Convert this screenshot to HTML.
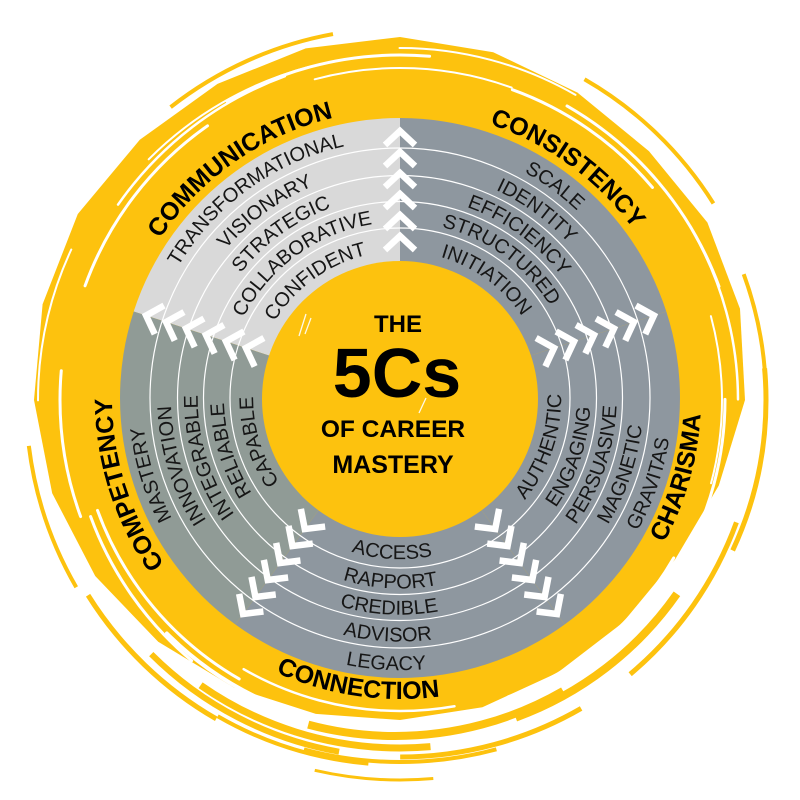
<!DOCTYPE html>
<html>
<head>
<meta charset="utf-8">
<style>
html,body{margin:0;padding:0;background:#fff;width:800px;height:800px;overflow:hidden;}
svg{display:block;position:absolute;left:0;top:0;}
.w{font-family:"Liberation Sans",Arial,sans-serif;font-size:20px;fill:#161616;}
.l{font-family:"Liberation Sans",Arial,sans-serif;font-size:25px;font-weight:bold;fill:#000;}
.c{font-family:"Liberation Sans",Arial,sans-serif;font-weight:bold;fill:#000;text-anchor:middle;}
</style>
</head>
<body>
<svg width="800" height="800" viewBox="0 0 800 800" xmlns="http://www.w3.org/2000/svg">
<defs>
  <path id="cw1" d="M546.8 400 A146.8 146.8 0 1 1 253.2 400 A146.8 146.8 0 1 1 546.8 400"/>
  <path id="cw2" d="M576 400 A176 176 0 1 1 224 400 A176 176 0 1 1 576 400"/>
  <path id="cw3" d="M602.3 400 A202.3 202.3 0 1 1 197.7 400 A202.3 202.3 0 1 1 602.3 400"/>
  <path id="cw4" d="M629 400 A229 229 0 1 1 171 400 A229 229 0 1 1 629 400"/>
  <path id="cw5" d="M657.8 400 A257.8 257.8 0 1 1 142.2 400 A257.8 257.8 0 1 1 657.8 400"/>
  <path id="cwL" d="M688 400 A288 288 0 1 1 112 400 A288 288 0 1 1 688 400"/>
  <path id="cc1" d="M238.8 400 A161.2 161.2 0 1 0 561.2 400 A161.2 161.2 0 1 0 238.8 400"/>
  <path id="cc2" d="M209.5 400 A190.5 190.5 0 1 0 590.5 400 A190.5 190.5 0 1 0 209.5 400"/>
  <path id="cc3" d="M183.3 400 A216.7 216.7 0 1 0 616.7 400 A216.7 216.7 0 1 0 183.3 400"/>
  <path id="cc4" d="M156.5 400 A243.5 243.5 0 1 0 643.5 400 A243.5 243.5 0 1 0 156.5 400"/>
  <path id="cc5" d="M127.8 400 A272.2 272.2 0 1 0 672.2 400 A272.2 272.2 0 1 0 127.8 400"/>
  <path id="ccL" d="M99 400 A301 301 0 1 0 701 400 A301 301 0 1 0 99 400"/>
  <g id="chev" fill="none" stroke="#fff" stroke-width="6.5" stroke-linejoin="miter">
    <polyline points="253,-15 267,0 253,15"/>
    <polyline points="232,-15 246,0 232,15"/>
    <polyline points="211,-15 225,0 211,15"/>
    <polyline points="190,-15 204,0 190,15"/>
    <polyline points="169,-15 183,0 169,15"/>
    <polyline points="148,-15 162,0 148,15"/>
  </g>
</defs>

<rect width="800" height="800" fill="#fff"/>

<!-- outer brushy yellow blob -->
<polygon fill="#FDC20E" points="745,400 718.8,485.5 675.4,559 622.7,622.7 557.5,672.8 482.4,707.2 400,720 315.8,713.9 234,687.5 158.2,641.8 95.2,576 52.2,493.2 34,400 42.6,304.2 77.8,214 139.8,139.8 217.5,83.9 305.7,48.4 400,37 493.2,52.2 577.5,92.6 648.9,151.1 707.4,222.5 740,308.8"/>

<!-- white streaks (pathLength 360 => units are degrees) -->
<g fill="none" stroke="#fff" stroke-linecap="round">
  <circle cx="400" cy="400" r="335" pathLength="360" stroke-width="3" stroke-dasharray="35 325" stroke-dashoffset="-200"/>
  <circle cx="405" cy="405" r="350" pathLength="360" stroke-width="2.5" stroke-dasharray="35 325" stroke-dashoffset="-215"/>
  <circle cx="400" cy="400" r="345" pathLength="360" stroke-width="3" stroke-dasharray="35 325" stroke-dashoffset="-240"/>
  <circle cx="395" cy="400" r="357" pathLength="360" stroke-width="2" stroke-dasharray="25 335" stroke-dashoffset="-180"/>
  <circle cx="400" cy="396" r="328" pathLength="360" stroke-width="2" stroke-dasharray="35 325" stroke-dashoffset="-255"/>
  <circle cx="400" cy="400" r="340" pathLength="360" stroke-width="3" stroke-dasharray="25 335" stroke-dashoffset="-160"/>
  <circle cx="400" cy="400" r="330" pathLength="360" stroke-width="3" stroke-dasharray="30 330" stroke-dashoffset="-290"/>
  <circle cx="395" cy="405" r="345" pathLength="360" stroke-width="3" stroke-dasharray="40 320" stroke-dashoffset="-300"/>
  <circle cx="400" cy="400" r="338" pathLength="360" stroke-width="2.5" stroke-dasharray="30 330" stroke-dashoffset="-330"/>
  <circle cx="400" cy="400" r="352" pathLength="360" stroke-width="2" stroke-dasharray="30 330" stroke-dashoffset="-270"/>
  <circle cx="400" cy="400" r="325" pathLength="360" stroke-width="3" stroke-dasharray="30 330" stroke-dashoffset="0"/>
  <circle cx="400" cy="400" r="316" pathLength="360" stroke-width="3" stroke-dasharray="40 320" stroke-dashoffset="-30"/>
  <circle cx="400" cy="398" r="313" pathLength="360" stroke-width="2.5" stroke-dasharray="40 320" stroke-dashoffset="-80"/>
  <circle cx="400" cy="400" r="322" pathLength="360" stroke-width="3" stroke-dasharray="40 320" stroke-dashoffset="-120"/>
  <circle cx="400" cy="400" r="330" pathLength="360" stroke-width="4" stroke-dasharray="40 320" stroke-dashoffset="-95"/>
  <circle cx="410" cy="400" r="340" pathLength="360" stroke-width="3" stroke-dasharray="30 330" stroke-dashoffset="-130"/>
  <circle cx="400" cy="410" r="355" pathLength="360" stroke-width="2" stroke-dasharray="30 330" stroke-dashoffset="-225"/>
  <circle cx="400" cy="400" r="322" pathLength="360" stroke-width="2" stroke-dasharray="30 330" stroke-dashoffset="-345"/>
  <circle cx="390" cy="400" r="345" pathLength="360" stroke-width="4" stroke-dasharray="35 325" stroke-dashoffset="-10"/>
</g>

<!-- yellow blades -->
<g fill="none" stroke="#FDC20E">
  <circle cx="400" cy="390" r="372" pathLength="360" stroke-width="4" stroke-dasharray="30 330" stroke-dashoffset="-75"/>
  <circle cx="400" cy="395" r="362" pathLength="360" stroke-width="5" stroke-dasharray="30 330" stroke-dashoffset="-60"/>
  <circle cx="400" cy="400" r="348" pathLength="360" stroke-width="7" stroke-dasharray="40 320" stroke-dashoffset="-85"/>
  <circle cx="400" cy="400" r="358" pathLength="360" stroke-width="5" stroke-dasharray="30 330" stroke-dashoffset="-20"/>
  <circle cx="410" cy="400" r="356" pathLength="360" stroke-width="5" stroke-dasharray="30 330" stroke-dashoffset="-355"/>
  <circle cx="400" cy="400" r="366" pathLength="360" stroke-width="4" stroke-dasharray="23.5 336.5" stroke-dashoffset="-340"/>
  <circle cx="400" cy="400" r="370" pathLength="360" stroke-width="4" stroke-dasharray="28 332" stroke-dashoffset="-300"/>
  <circle cx="400" cy="400" r="368" pathLength="360" stroke-width="5" stroke-dasharray="28 332" stroke-dashoffset="-120"/>
  <circle cx="400" cy="400" r="374" pathLength="360" stroke-width="4" stroke-dasharray="23 337" stroke-dashoffset="-150"/>
  <circle cx="400" cy="400" r="338" pathLength="360" stroke-width="8" stroke-dasharray="35 325" stroke-dashoffset="-35"/>
  <circle cx="395" cy="400" r="336" pathLength="360" stroke-width="8" stroke-dasharray="45 315" stroke-dashoffset="-60"/>
  <circle cx="400" cy="400" r="372" pathLength="360" stroke-width="4" stroke-dasharray="27.7 332.3" stroke-dashoffset="-232"/>
  <circle cx="400" cy="400" r="365" pathLength="360" stroke-width="4" stroke-dasharray="25 335" stroke-dashoffset="-95"/>
  <circle cx="400" cy="405" r="352" pathLength="360" stroke-width="6" stroke-dasharray="35 325" stroke-dashoffset="-100"/>
  <circle cx="400" cy="400" r="380" pathLength="360" stroke-width="3" stroke-dasharray="18 342" stroke-dashoffset="-85"/>
</g>

<g transform="translate(0,-2)">
  <!-- sectors -->
  <path d="M400 400 L133.7 313.5 A280 280 0 0 1 400 120 Z" fill="#D9D9D9"/>
  <path d="M400 400 L400 120 A280 280 0 0 1 666.3 313.5 Z" fill="#8E979F"/>
  <path d="M400 400 L666.3 313.5 A280 280 0 0 1 564.6 626.5 Z" fill="#8E979F"/>
  <path d="M400 400 L564.6 626.5 A280 280 0 0 1 235.4 626.5 Z" fill="#8E979F"/>
  <path d="M400 400 L235.4 626.5 A280 280 0 0 1 133.7 313.5 Z" fill="#909B96"/>

  <!-- ring lines -->
  <g fill="none" stroke="#fff" stroke-width="1.2">
    <circle cx="400" cy="400" r="170"/>
    <circle cx="400" cy="400" r="196.5"/>
    <circle cx="400" cy="400" r="222.5"/>
    <circle cx="400" cy="400" r="250"/>
  </g>

  <!-- chevrons -->
  <use href="#chev" transform="translate(400 400) rotate(270)"/>
  <use href="#chev" transform="translate(400 400) rotate(342)"/>
  <use href="#chev" transform="translate(400 400) rotate(54)"/>
  <use href="#chev" transform="translate(400 400) rotate(126)"/>
  <use href="#chev" transform="translate(400 400) rotate(198)"/>

  <!-- inner circle -->
  <circle cx="400" cy="401" r="138" fill="#FDC20E"/>

  <!-- Communication -->
  <text class="w" text-anchor="middle"><textPath href="#cw5" startOffset="1052.9">TRANSFORMATIONAL</textPath></text>
  <text class="w" text-anchor="middle"><textPath href="#cw4" startOffset="935.3">VISIONARY</textPath></text>
  <text class="w" text-anchor="middle"><textPath href="#cw3" startOffset="826.2">STRATEGIC</textPath></text>
  <text class="w" text-anchor="middle"><textPath href="#cw2" startOffset="718.8">COLLABORATIVE</textPath></text>
  <text class="w" text-anchor="middle"><textPath href="#cw1" startOffset="599.5">CONFIDENT</textPath></text>
  <text class="l" text-anchor="middle"><textPath href="#cwL" startOffset="1181.2">COMMUNICATION</textPath></text>

  <!-- Consistency -->
  <text class="w" text-anchor="middle"><textPath href="#cw5" startOffset="1376.8">SCALE</textPath></text>
  <text class="w" text-anchor="middle"><textPath href="#cw4" startOffset="1223">IDENTITY</textPath></text>
  <text class="w" text-anchor="middle"><textPath href="#cw3" startOffset="1080.4">EFFICIENCY</textPath></text>
  <text class="w" text-anchor="middle"><textPath href="#cw2" startOffset="940">STRUCTURED</textPath></text>
  <text class="w" text-anchor="middle"><textPath href="#cw1" startOffset="784">INITIATION</textPath></text>
  <text class="l" text-anchor="middle"><textPath href="#cwL" startOffset="1538.1">CONSISTENCY</textPath></text>

  <!-- Competency -->
  <text class="w" text-anchor="middle"><textPath href="#cw5" startOffset="732.5">MASTERY</textPath></text>
  <text class="w" text-anchor="middle"><textPath href="#cw4" startOffset="650.7">INNOVATION</textPath></text>
  <text class="w" text-anchor="middle"><textPath href="#cw3" startOffset="574.8">INTEGRABLE</textPath></text>
  <text class="w" text-anchor="middle"><textPath href="#cw2" startOffset="500.1">RELIABLE</textPath></text>
  <text class="w" text-anchor="middle"><textPath href="#cw1" startOffset="417.1">CAPABLE</textPath></text>
  <text class="l" text-anchor="middle"><textPath href="#cwL" startOffset="815.8">COMPETENCY</textPath></text>

  <!-- Charisma -->
  <text class="w" text-anchor="middle"><textPath href="#cc1" startOffset="453">AUTHENTIC</textPath></text>
  <text class="w" text-anchor="middle"><textPath href="#cc2" startOffset="535.3">ENGAGING</textPath></text>
  <text class="w" text-anchor="middle"><textPath href="#cc3" startOffset="608.9">PERSUASIVE</textPath></text>
  <text class="w" text-anchor="middle"><textPath href="#cc4" startOffset="684.2">MAGNETIC</textPath></text>
  <text class="w" text-anchor="middle"><textPath href="#cc5" startOffset="764.9">GRAVITAS</textPath></text>
  <text class="l" text-anchor="middle"><textPath href="#ccL" startOffset="861.6">CHARISMA</textPath></text>

  <!-- Connection -->
  <text class="w" text-anchor="middle"><textPath href="#cc1" startOffset="244.8">ACCESS</textPath></text>
  <text class="w" text-anchor="middle"><textPath href="#cc2" startOffset="289.3">RAPPORT</textPath></text>
  <text class="w" text-anchor="middle"><textPath href="#cc3" startOffset="329">CREDIBLE</textPath></text>
  <text class="w" text-anchor="middle"><textPath href="#cc4" startOffset="369.7">ADVISOR</textPath></text>
  <text class="w" text-anchor="middle"><textPath href="#cc5" startOffset="413.3">LEGACY</textPath></text>
  <text class="l" text-anchor="middle"><textPath href="#ccL" startOffset="428.7">CONNECTION</textPath></text>
</g>

<!-- small scratches on inner circle -->
<g stroke="#fff" stroke-width="1.3" fill="none" opacity="0.9">
  <line x1="306" y1="314" x2="299" y2="336"/>
  <line x1="311" y1="318" x2="305" y2="334"/>
  <line x1="426" y1="398" x2="419" y2="413"/>
</g>

<!-- center text -->
<text class="c" x="398" y="332" font-size="24">THE</text>
<text class="c" x="397" y="397" font-size="70">5Cs</text>
<text class="c" x="393" y="437" font-size="24.5">OF CAREER</text>
<text class="c" x="393" y="473" font-size="25">MASTERY</text>
</svg>
</body>
</html>
